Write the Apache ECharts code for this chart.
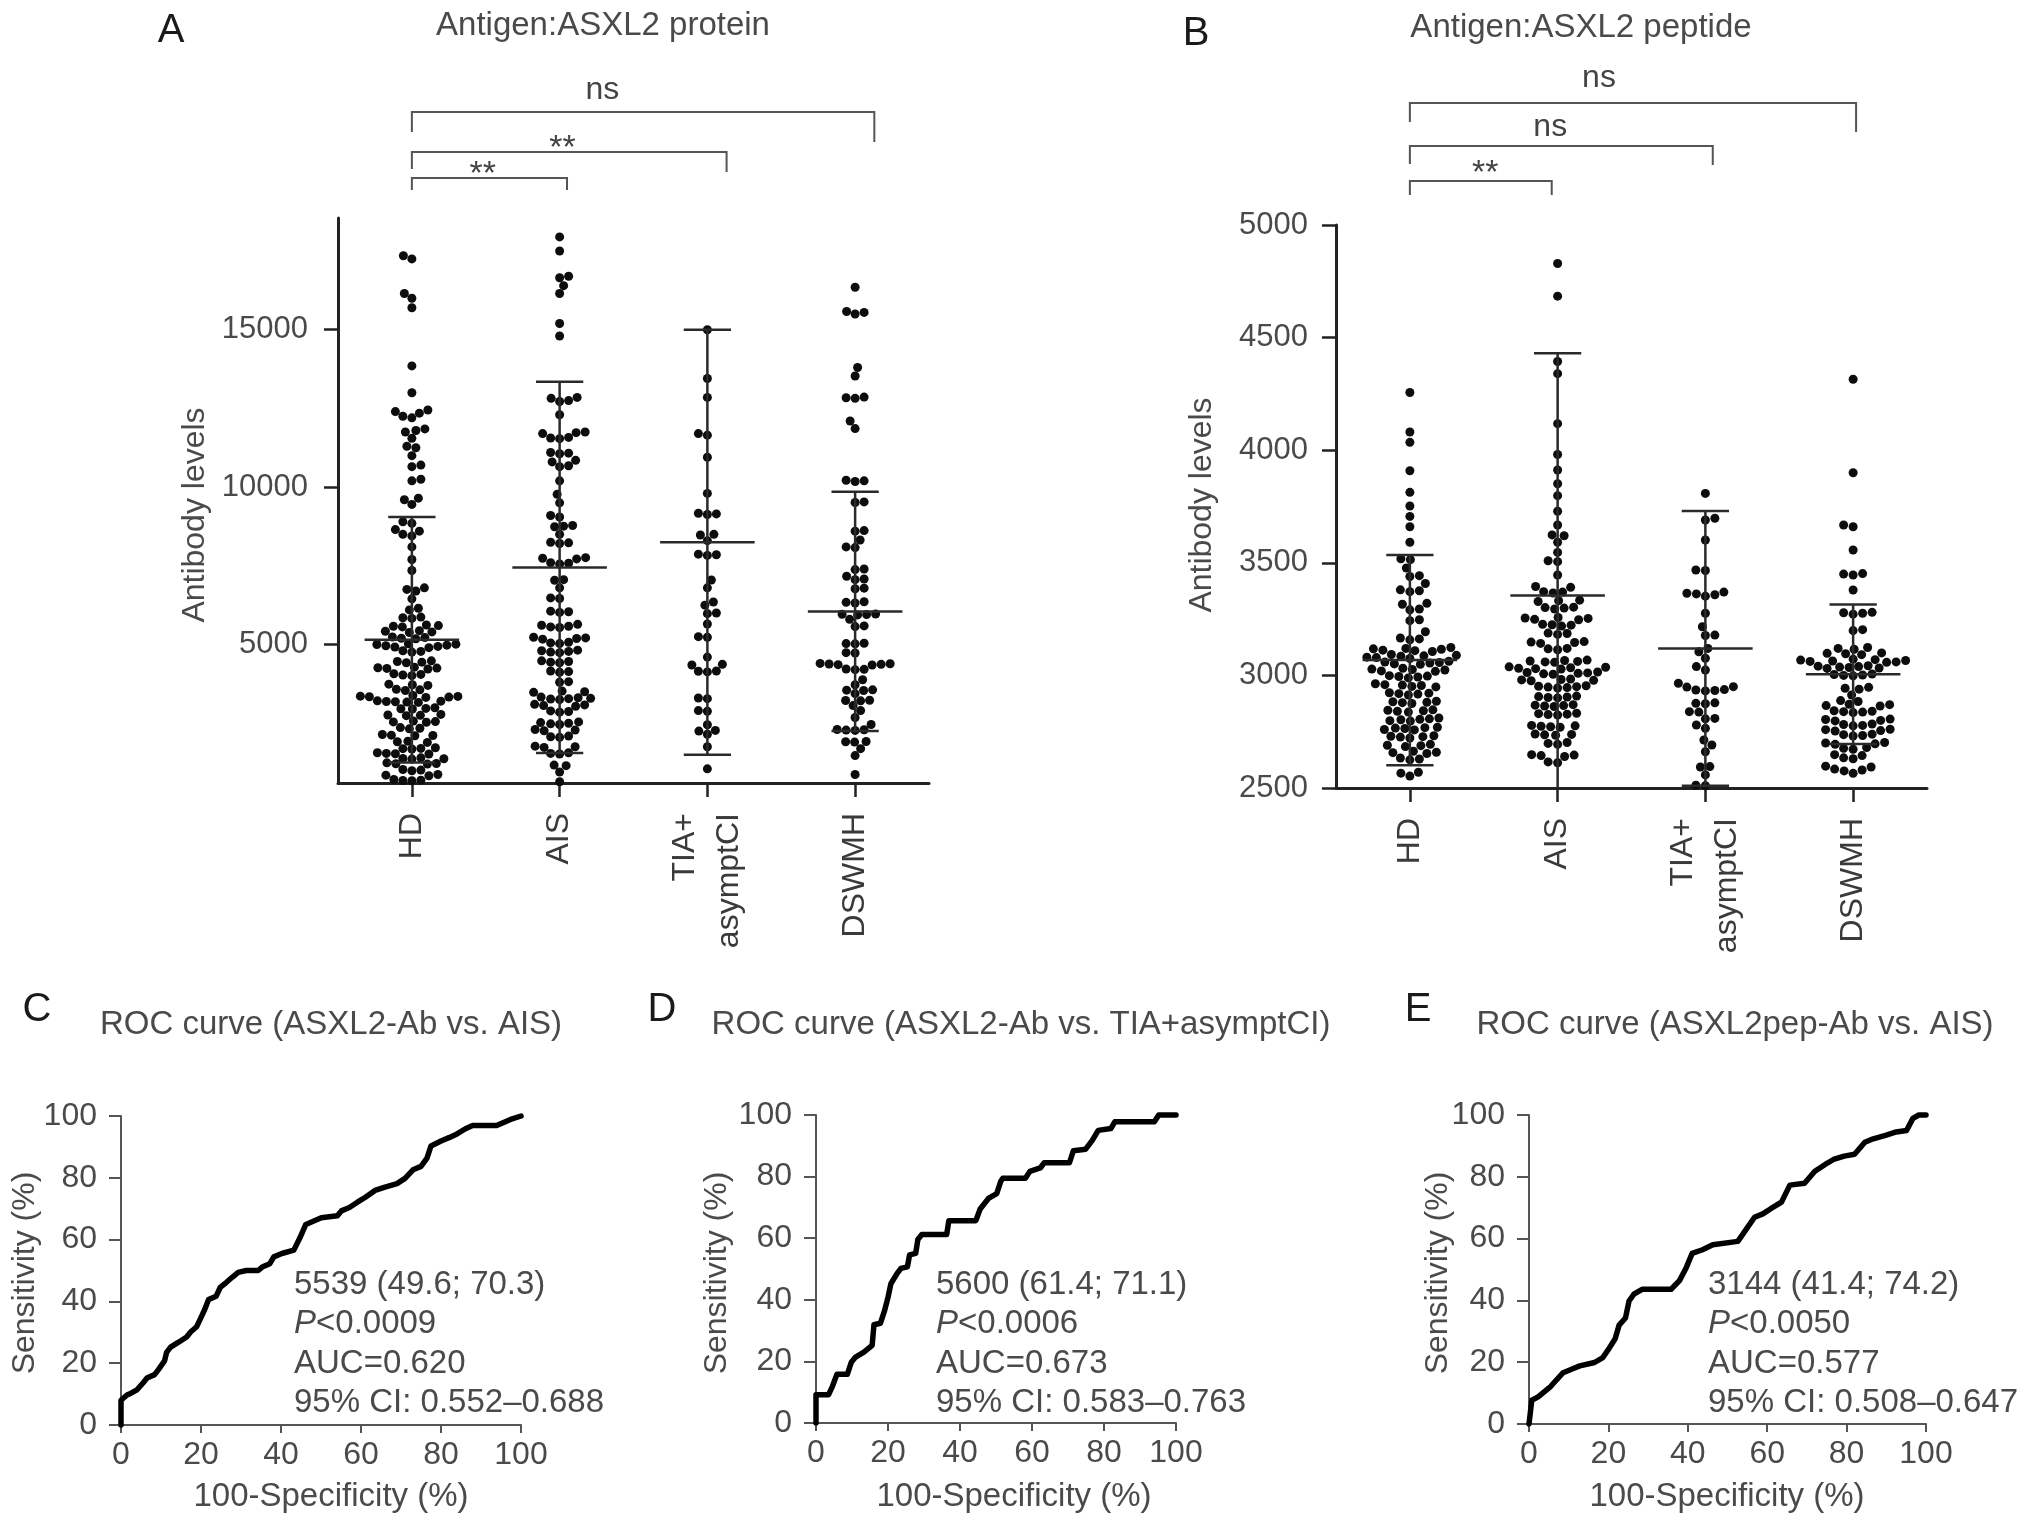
<!DOCTYPE html>
<html>
<head>
<meta charset="utf-8">
<script src="https://cdn.jsdelivr.net/npm/echarts@6/dist/echarts.min.js"></script>
<style>html,body{margin:0;padding:0;background:#fff;}#c{width:2032px;height:1531px;}</style>
</head>
<body>
<div id="c"></div>
<script>
// ---------------- DATA ----------------
const CATS = ['HD', 'AIS', 'TIA+\nasymptCI', 'DSWMH'];
const A_TICKS = [5000, 10000, 15000];

// Panel A: Antigen ASXL2 protein (antibody levels)
const A_HD = [17350,17250,16150,16000,15700,13850,13000,12450,12400,12350,12250,12200,11850,11800,11750,11550,11300,11250,11000,10700,10650,10250,10200,9650,9600,9450,8900,8850,8650,8600,8500,8450,8100,7700,7350,6800,6750,6700,6450,6150,6100,
 5850,5830,5870,5600,5580,5620,5560,5420,5400,5380,5440,5220,5200,5180,5240,5000,4980,5020,4960,5010,
 4940,4920,4900,4800,4780,4760,4460,4440,4480,4420,4260,4240,4220,4280,4250,4050,4030,4070,4010,3720,3700,3740,3560,3540,3580,
 3350,3340,3360,3320,3380,3330,3190,3180,3200,3170,3210,3160,2970,2950,2990,2960,2760,2740,2780,2750,2550,2530,2570,2540,2340,2320,2360,
 2120,2100,2140,2110,1910,1890,1930,1700,1680,1720,1690,1540,1520,1560,1530,1380,1360,1400,1370,1220,1200,1240,1210,1010,990,1030,850,830,870,690,670,710,680];
const A_AIS = [17950,17500,16700,16650,16400,16150,15200,14800,12850,12820,12750,12720,12300,11750,11730,11700,11580,11560,11540,11100,11080,11060,10850,10800,10680,10650,10200,9770,9500,9100,9050,8780,8760,8740,8500,8250,8230,8210,7760,7740,7720,7600,7580,7560,7060,7040,6800,6480,6460,6060,6040,6020,5640,5610,
 5580,5560,5540,5210,5190,5230,5170,5050,5030,5070,4780,4760,4800,4740,4820,4460,4440,4480,4420,4140,4120,4160,3820,3800,3500,3480,3520,
 3290,3270,3310,3250,3330,3280,3080,3060,3100,3040,2870,2850,2890,2500,2480,2520,2460,2540,2280,2260,2300,2070,2050,2090,1750,1730,1770,1540,1520,1560,1170,1150,950,640];
const A_TIA = [15000,13450,12850,11700,11650,10950,9800,9170,9150,9130,8500,8480,8300,7850,7830,7870,7050,6800,6350,6250,6000,5980,5650,5250,5230,4600,4370,4350,4150,4130,4160,3300,3280,2900,2880,2450,2270,2250,2150,1750,1050];
const A_DSWMH = [16350,15580,15550,15500,13800,13530,12860,12840,12820,12100,11860,10220,10200,10180,9530,9510,8620,8600,8320,8100,8080,7400,7380,7170,7080,7060,6790,6770,6360,6340,6320,5970,5960,5950,5940,5800,5590,5570,5040,5030,5020,4740,4730,4380,4370,4360,4350,4390,4400,4220,4210,4200,3880,3720,3560,3550,3540,3440,3230,3220,3210,3060,2900,2680,2460,2300,2290,2280,2270,1910,1900,1920,1690,1470,870];
const A_MEAN = [5150, 7450, 8250, 6050];
const A_SD = [3900, 5900, 6750, 3800];

// Panel B: Antigen ASXL2 peptide
const B_TICKS = [2500, 3000, 3500, 4000, 4500, 5000];
const B_HD = [4256,4081,4035,3909,3813,3752,3706,3660,3591,3518,3514,3477,3443,3439,3408,3380,3376,3372,3320,3316,3295,3291,3247,3243,3194,3166,3162,3158,
 3124,3120,3118,3116,3112,3110,3106,3093,3089,3087,3085,3081,3079,3075,3063,3059,3057,3055,3051,3049,3032,3028,3026,3024,3020,3018,
 2999,2997,2995,2993,2989,2963,2959,2957,2955,2951,2949,2923,2921,2919,2917,2913,2885,2883,2881,2879,2875,2847,2845,2843,2841,2837,
 2811,2807,2805,2803,2799,2797,2770,2768,2766,2764,2760,2758,2732,2730,2728,2726,2722,2694,2690,2688,2684,2663,2659,2657,2653,2633,2629,2625,2570,2566,2553];
const B_AIS = [4829,4684,4394,4340,4118,3981,3912,3851,3798,3729,3668,3624,3620,3591,3546,3509,3505,3446,3395,3391,3372,3370,3366,3334,3332,3328,3303,3301,3299,3295,3257,3255,3253,3249,3247,3227,3225,3223,3219,3188,3186,3182,3150,3148,3146,3142,3120,3118,3114,
 3068,3066,3064,3062,3060,3058,3038,3036,3034,3032,3030,3028,3015,3013,3011,3009,3007,3005,2984,2982,2980,2978,2976,2954,2952,2950,2948,2946,2944,
 2908,2906,2904,2902,2900,2870,2868,2866,2864,2862,2832,2830,2828,2826,2824,2778,2776,2774,2772,2770,2740,2738,2736,2734,2702,2698,2694,2648,2646,2644,2640,2616,2612];
const B_TIA = [3808,3698,3690,3601,3468,3466,3370,3362,3358,3352,3365,3276,3216,3179,3177,3120,3105,3076,3039,3024,2965,2950,2948,2937,2935,2933,2931,2876,2874,2878,2839,2837,2809,2807,2780,2765,2713,2691,2661,2595,2593,2558,2512,2510];
const B_DSWMH = [4315,3900,3668,3660,3557,3452,3450,3446,3379,3280,3278,3276,3272,3203,3199,3124,3120,3116,3100,3098,3096,3092,
 3072,3070,3068,3066,3064,3062,3060,3058,3043,3041,3039,3037,3035,3033,3031,3006,3004,3002,3000,2998,2947,2943,2939,2913,2888,2884,
 2872,2870,2866,2864,2843,2841,2839,2837,2835,2806,2804,2800,2798,2784,2782,2778,2776,2761,2759,2755,2753,2739,2737,2733,2731,
 2702,2700,2696,2694,2680,2676,2672,2648,2644,2634,2630,2597,2593,2584,2580,2576,2565];
const B_MEAN = [3068, 3355, 3120, 3005];
const B_SD = [467, 1075, 610, 310];

// Significance brackets: category span, label
const A_BR_FROM = [0, 0, 0];
const A_BR_TO = [1.05, 2.13, 3.13];
const A_BR_LABEL = ['**', '**', 'ns'];
const B_BR_FROM = [0, 0, 0];
const B_BR_TO = [0.96, 2.05, 3.02];
const B_BR_LABEL = ['**', 'ns', 'ns'];

// ROC curves (100-specificity %, sensitivity %)
const ROC_TICKS = [0, 20, 40, 60, 80, 100];
const C_FPR = [0,0,1.5,2.5,4,5.5,6.5,8.4,9.4,10.9,11.4,12.4,14.4,16.4,17.4,18.9,19.9,20.9,21.9,23.8,24.8,26.3,27.8,29.3,31.3,34.3,35.3,37.2,38.2,40.2,43.2,44.7,46.2,48.2,50.1,54.1,55.1,57.1,59.1,61.1,63.5,66,69,71,73,75,76.5,77.5,80,82,84,86,87.9,93.9,95.8,97.8,100];
const C_TPR = [0,8,9.7,10.3,11.4,13.6,15.2,16.3,18,20.8,23.5,25.2,26.8,28.5,30.1,31.8,34.5,37.3,40.6,41.7,44.5,46.1,47.8,49.4,50,50,51.1,52.2,54.4,55.5,56.6,60.5,64.9,66,67.1,67.7,69.3,70.4,72.1,73.7,75.9,77,78.1,79.8,82.6,83.7,86.4,90.3,91.9,93,94.2,95.8,96.9,96.9,98,99.1,100];
const D_FPR = [0,0,3.5,4.6,5.8,8.7,9.8,11,13.3,15.6,16.1,17.9,19,20,20.8,22.5,23.6,25.4,26,27.7,28.3,29.4,36.3,36.9,44.4,45.6,47.9,50.2,51.3,51.9,58.2,59.4,62.3,63.4,70.4,71.5,74.9,76.7,78.4,81.9,83,94,95.2,100];
const D_TPR = [0,9.2,9.2,12,15.8,15.8,19.7,21.4,23,25.2,31.9,32.4,36.3,40.8,45.2,48.5,50.2,50.7,54.6,55.1,59.6,61.2,61.2,65.7,65.7,69.5,72.9,74.5,78.4,79.5,79.5,81.7,82.8,84.5,84.5,88.4,88.9,91.7,95,95.6,97.8,97.8,100,100];
const E_FPR = [0,0.7,2.3,3.9,5.5,7,8.6,10.7,12.8,16.5,18.6,20.1,21.7,22.7,24.3,25.2,26.4,28.5,35.8,37.9,39.5,41.1,43.7,46.3,52.6,54.7,56.8,58.9,60.8,63.6,65.7,69.4,72,74.6,76.7,79.4,82,84.6,86.7,89.8,92.5,95.1,96.7,98.2,100];
const E_TPR = [0,7.7,8.8,10.5,12.2,14.4,16.6,17.7,18.8,19.9,21.5,24.3,27.6,32,34.3,39.8,42,43.6,43.6,46.4,50.3,55.2,56.4,58,59.1,63,66.9,68,69.6,71.8,77.3,77.9,81.8,84,85.6,86.7,87.3,91.2,92.3,93.4,94.5,95,98.9,100,100];

const C_NOTE = ['5539 (49.6; 70.3)', '<0.0009', 'AUC=0.620', '95% CI: 0.552\u20130.688'];
const D_NOTE = ['5600 (61.4; 71.1)', '<0.0006', 'AUC=0.673', '95% CI: 0.583\u20130.763'];
const E_NOTE = ['3144 (41.4; 74.2)', '<0.0050', 'AUC=0.577', '95% CI: 0.508\u20130.647'];

// ---------------- LAYOUT / STYLE ----------------
const FONT = "'Liberation Sans', Arial, Helvetica, sans-serif";
const TXT = '#4a4a4a';
const AX = '#222';
const GA = {left: 338, top: 218, width: 591, height: 565};
const GB = {left: 1336, top: 225, width: 591, height: 563};
const GAb = {left: 338, top: 60, width: 591, height: 140};
const GBb = {left: 1336, top: 60, width: 591, height: 140};
const GC = {left: 121, top: 1116, width: 400, height: 309};
const GD = {left: 816, top: 1115, width: 360, height: 308};
const GE = {left: 1529, top: 1115, width: 397, height: 309};
const A_MIN = 600, A_MAX = 18550, B_MIN = 2500, B_MAX = 5000;
// bracket vertical geometry (px above bracket-grid bottom)
const A_BR_GEO = [[22, 10, 10, 0.48, 25], [48, 31, 28, 1.02, 51], [88, 68, 58, 1.29, 110]];
const B_BR_GEO = [[19, 5, 5, 0.51, 26], [54, 36, 35, 0.95, 73], [97, 78, 68, 1.28, 122]];

// beeswarm layout computed from values
function swarm(vals, cat, pyPerUnit, pxPerCat, d) {
  const s = vals.slice().sort((a, b) => a - b);
  const placed = [];
  const out = [];
  s.forEach((v, i) => {
    const y = v * pyPerUnit;
    const near = placed.filter(p => Math.abs(p[1] - y) < d);
    const sign = (i % 2 === 0) ? 1 : -1;
    let chosen = 0;
    for (let k = 0; k < 800; k++) {
      const off = k === 0 ? 0 : sign * ((k % 2 === 1) ? 1 : -1) * Math.ceil(k / 2) * 0.5;
      let ok = true;
      for (const p of near) {
        const dx = p[0] - off, dy = p[1] - y;
        if (dx * dx + dy * dy < d * d) { ok = false; break; }
      }
      if (ok) { chosen = off; break; }
    }
    placed.push([chosen, y]);
    out.push([cat + chosen / pxPerCat, v]);
  });
  return out;
}

const pyA = GA.height / (A_MAX - A_MIN), pxA = GA.width / 4;
const pyB = GB.height / (B_MAX - B_MIN), pxB = GB.width / 4;
const DMIN_A = 8.8, DMIN_B = 9.2;
const scatA = [].concat(swarm(A_HD, 0, pyA, pxA, DMIN_A), swarm(A_AIS, 1, pyA, pxA, DMIN_A), swarm(A_TIA, 2, pyA, pxA, DMIN_A), swarm(A_DSWMH, 3, pyA, pxA, DMIN_A));
const scatB = [].concat(swarm(B_HD, 0, pyB, pxB, DMIN_B), swarm(B_AIS, 1, pyB, pxB, DMIN_B), swarm(B_TIA, 2, pyB, pxB, DMIN_B), swarm(B_DSWMH, 3, pyB, pxB, DMIN_B));

function errRender(yMin) {
  return function (params, api) {
    const c = api.value(0), m = api.value(1), s = api.value(2);
    const hi = m + s, lo = m - s;
    const st = {stroke: '#2a2a2a', lineWidth: 2.5};
    const line = (x1, y1, x2, y2) => {
      const a = api.coord([x1, y1]), b = api.coord([x2, y2]);
      return {type: 'line', shape: {x1: a[0], y1: a[1], x2: b[0], y2: b[1]}, style: st};
    };
    const kids = [line(c - 0.32, m, c + 0.32, m), line(c, Math.max(lo, yMin), c, hi), line(c - 0.16, hi, c + 0.16, hi)];
    if (lo >= yMin) kids.push(line(c - 0.16, lo, c + 0.16, lo));
    return {type: 'group', children: kids};
  };
}
function brRender(from, to, labels, geo) {
  return function (params, api) {
    const i = params.dataIndex;
    const g = geo[i];
    const L = api.coord([from[i], g[0]]), R = api.coord([to[i], g[0]]);
    const Ld = api.coord([from[i], g[1]]), Rd = api.coord([to[i], g[2]]);
    const T = api.coord([g[3], g[4]]);
    const isStar = labels[i] === '**';
    return {type: 'group', children: [
      {type: 'polyline', shape: {points: [Ld, L, R, Rd]}, style: {stroke: '#555', lineWidth: 2, fill: null}},
      {type: 'text', x: T[0], y: T[1], style: {text: labels[i], font: (isStar ? 34 : 32) + 'px ' + FONT, fill: '#444',
        align: 'center', verticalAlign: 'middle', textAlign: 'center', textVerticalAlign: 'middle'}}
    ]};
  };
}

function gtext(x, y, text, size, o) {
  o = o || {};
  const st = {text: text, font: (o.italic ? 'italic ' : '') + size + 'px ' + FONT, fill: o.color || TXT,
    align: o.align || 'center', verticalAlign: 'middle', textAlign: o.align || 'center', textVerticalAlign: 'middle'};
  if (o.rich) st.rich = o.rich;
  return {type: 'text', x: x, y: y, rotation: o.rot || 0, silent: true, style: st, z: 100};
}

function gridOf(g) { return Object.assign({containLabel: false, outerBoundsMode: 'none'}, g); }

const plain = v => String(v);
const axLabel = (size, margin, color) => ({fontSize: size, fontFamily: FONT, color: color || TXT, margin: margin, formatter: plain});

function rocX(gi) {
  return {type: 'value', gridIndex: gi, min: 0, max: 100, interval: 20,
    axisLine: {show: true, onZero: false, lineStyle: {color: '#555', width: 2}},
    axisTick: {show: true, length: 8, lineStyle: {color: '#555', width: 2}},
    axisLabel: axLabel(32, 14), splitLine: {show: false}};
}
function rocY(gi) {
  return {type: 'value', gridIndex: gi, min: 0, max: 100, interval: 20,
    axisLine: {show: true, onZero: false, lineStyle: {color: '#555', width: 2}},
    axisTick: {show: true, length: 12, lineStyle: {color: '#555', width: 2}},
    axisLabel: axLabel(32, 24), splitLine: {show: false}};
}
function rocSeries(xi, fpr, tpr) {
  return {type: 'line', xAxisIndex: xi, yAxisIndex: xi - 2, data: fpr.map((v, i) => [v, tpr[i]]),
    showSymbol: false, symbol: 'none', clip: false, lineStyle: {color: '#000', width: 5.5, join: 'round', cap: 'round'}, z: 5};
}
function catX(gi) {
  return {type: 'category', gridIndex: gi, data: CATS, boundaryGap: true, position: 'bottom',
    axisLine: {show: true, onZero: false, lineStyle: {color: AX, width: 3}},
    axisTick: {show: true, alignWithLabel: true, length: 14, lineStyle: {color: AX, width: 2.5}},
    axisLabel: {fontSize: 32, fontFamily: FONT, color: '#3a3a3a', margin: 30, rotate: 90, interval: 0, lineHeight: 44},
    splitLine: {show: false}};
}
function hidX(gi) { return {type: 'value', gridIndex: gi, min: -0.5, max: 3.5, show: false, position: 'top', axisLine: {onZero: false}}; }
function hidY(gi) { return {type: 'value', gridIndex: gi, min: 0, max: 140, show: false, axisLine: {onZero: false}}; }

const notes = [];
[[294, C_NOTE], [936, D_NOTE], [1708, E_NOTE]].forEach(([x, n]) => {
  const ys = [1285, 1324, 1364, 1403];
  notes.push(gtext(x, ys[0], n[0], 33, {align: 'left'}));
  notes.push(gtext(x, ys[1], '{i|P}' + n[1], 33, {align: 'left', rich: {i: {font: 'italic 33px ' + FONT, fill: TXT}}}));
  notes.push(gtext(x, ys[2], n[2], 33, {align: 'left'}));
  notes.push(gtext(x, ys[3], n[3], 33, {align: 'left'}));
});

const option = {
  animation: false,
  backgroundColor: '#fff',
  grid: [gridOf(GA), gridOf(GAb), gridOf(GB), gridOf(GBb), gridOf(GC), gridOf(GD), gridOf(GE)],
  xAxis: [catX(0), hidX(0), hidX(1), catX(2), hidX(2), hidX(3), rocX(4), rocX(5), rocX(6)],
  yAxis: [
    {type: 'value', gridIndex: 0, min: A_MIN, max: A_MAX,
      axisLine: {show: true, onZero: false, lineStyle: {color: AX, width: 3}},
      axisTick: {show: true, length: 14, customValues: A_TICKS, lineStyle: {color: AX, width: 2.5}},
      axisLabel: Object.assign(axLabel(31, 30), {customValues: A_TICKS}), splitLine: {show: false}},
    hidY(1),
    {type: 'value', gridIndex: 2, min: B_MIN, max: B_MAX, interval: 500,
      axisLine: {show: true, onZero: false, lineStyle: {color: AX, width: 3}},
      axisTick: {show: true, length: 14, lineStyle: {color: AX, width: 2.5}},
      axisLabel: axLabel(31, 28), splitLine: {show: false}},
    hidY(3),
    rocY(4), rocY(5), rocY(6)
  ],
  series: [
    {type: 'scatter', xAxisIndex: 1, yAxisIndex: 0, data: scatA, symbol: 'circle', symbolSize: 9, itemStyle: {color: '#0d0d0d', opacity: 1}, z: 2},
    {type: 'custom', xAxisIndex: 1, yAxisIndex: 0, data: A_MEAN.map((m, i) => [i, m, A_SD[i]]), renderItem: errRender(A_MIN), z: 4},
    {type: 'custom', xAxisIndex: 2, yAxisIndex: 1, data: A_BR_LABEL.map((l, i) => [A_BR_FROM[i], A_BR_TO[i]]), renderItem: brRender(A_BR_FROM, A_BR_TO, A_BR_LABEL, A_BR_GEO), z: 4},
    {type: 'scatter', xAxisIndex: 4, yAxisIndex: 2, data: scatB, symbol: 'circle', symbolSize: 9, itemStyle: {color: '#0d0d0d', opacity: 1}, z: 2},
    {type: 'custom', xAxisIndex: 4, yAxisIndex: 2, data: B_MEAN.map((m, i) => [i, m, B_SD[i]]), renderItem: errRender(B_MIN), z: 4},
    {type: 'custom', xAxisIndex: 5, yAxisIndex: 3, data: B_BR_LABEL.map((l, i) => [B_BR_FROM[i], B_BR_TO[i]]), renderItem: brRender(B_BR_FROM, B_BR_TO, B_BR_LABEL, B_BR_GEO), z: 4},
    rocSeries(6, C_FPR, C_TPR),
    rocSeries(7, D_FPR, D_TPR),
    rocSeries(8, E_FPR, E_TPR)
  ],
  graphic: {elements: [
    gtext(171, 31, 'A', 40, {color: '#1a1a1a'}),
    gtext(1196, 34, 'B', 40, {color: '#1a1a1a'}),
    gtext(37, 1010, 'C', 40, {color: '#1a1a1a'}),
    gtext(662, 1010, 'D', 40, {color: '#1a1a1a'}),
    gtext(1418, 1010, 'E', 40, {color: '#1a1a1a'}),
    gtext(603, 26, 'Antigen:ASXL2 protein', 33),
    gtext(1581, 28, 'Antigen:ASXL2 peptide', 33),
    gtext(331, 1025, 'ROC curve (ASXL2-Ab vs. AIS)', 33),
    gtext(1021, 1025, 'ROC curve (ASXL2-Ab vs. TIA+asymptCI)', 33),
    gtext(1735, 1025, 'ROC curve (ASXL2pep-Ab vs. AIS)', 33),
    gtext(195, 515, 'Antibody levels', 32, {rot: Math.PI / 2}),
    gtext(1202, 505, 'Antibody levels', 32, {rot: Math.PI / 2}),
    gtext(25, 1273, 'Sensitivity (%)', 32, {rot: Math.PI / 2}),
    gtext(717, 1273, 'Sensitivity (%)', 32, {rot: Math.PI / 2}),
    gtext(1438, 1273, 'Sensitivity (%)', 32, {rot: Math.PI / 2}),
    gtext(331, 1497, '100-Specificity (%)', 33),
    gtext(1014, 1497, '100-Specificity (%)', 33),
    gtext(1727, 1497, '100-Specificity (%)', 33)
  ].concat(notes)}
};

const chart = echarts.init(document.getElementById('c'), null, {renderer: 'canvas', width: 2032, height: 1531});
chart.setOption(option);
</script>
</body>
</html>
